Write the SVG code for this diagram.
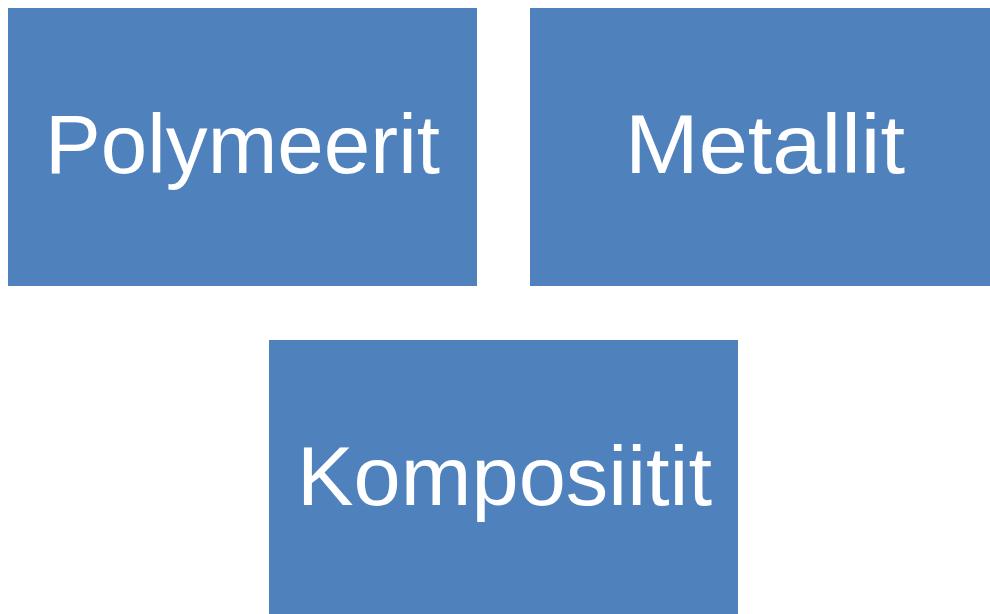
<svg xmlns="http://www.w3.org/2000/svg" width="990" height="614" viewBox="0 0 990 614">
<style>
.box{fill:#4F81BD;}
.lbl{fill:#ffffff;font-family:"Liberation Sans",Arial,sans-serif;font-size:84px;text-anchor:middle;}
</style>
<rect width="990" height="614" fill="#ffffff"/>
<g id="connectors"></g>
<g id="polymeerit">
<rect class="box" x="8" y="8" width="469" height="278"/>
<text class="lbl" x="242.5" y="173" textLength="395" lengthAdjust="spacingAndGlyphs">Polymeerit</text>
</g>
<g id="metallit">
<rect class="box" x="530" y="8" width="460" height="278"/>
<text class="lbl" x="765" y="173" textLength="280" lengthAdjust="spacingAndGlyphs">Metallit</text>
</g>
<g id="komposiitit">
<rect class="box" x="269" y="340" width="469" height="274"/>
<text class="lbl" x="504.5" y="505" textLength="415" lengthAdjust="spacingAndGlyphs">Komposiitit</text>
</g>
</svg>
